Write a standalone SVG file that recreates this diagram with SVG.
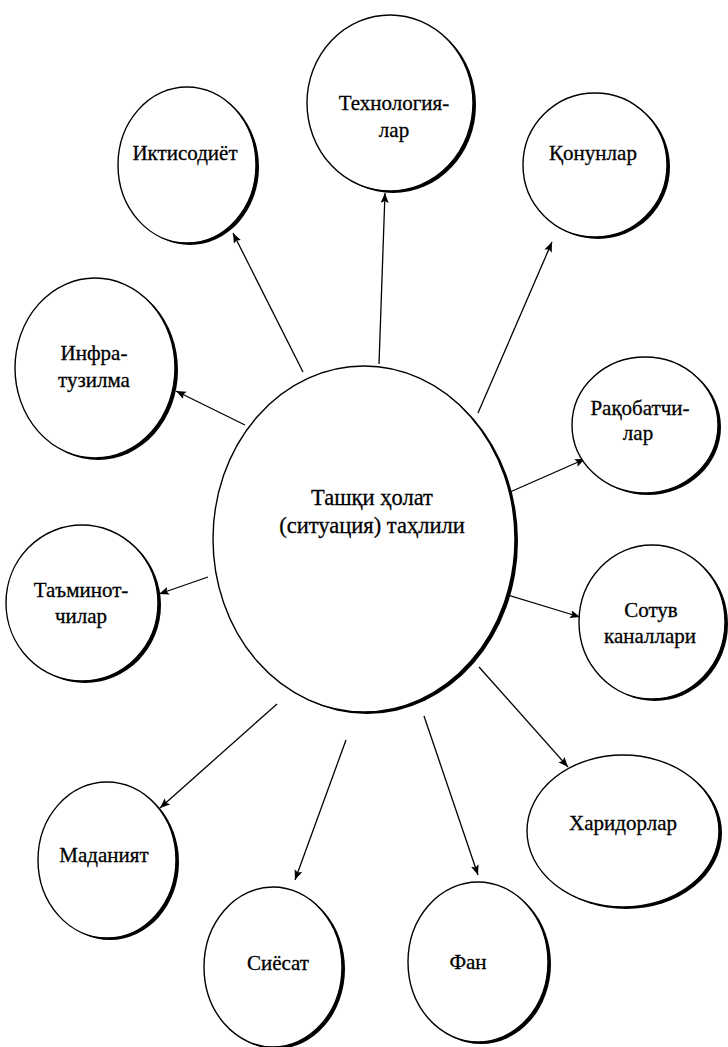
<svg xmlns="http://www.w3.org/2000/svg" width="728" height="1047" viewBox="0 0 728 1047">
<style>
.sh{fill:#000;stroke:none}
.fg{fill:#fff;stroke:#000;stroke-width:1.4}
.t{font-family:'Liberation Serif','DejaVu Serif','Times New Roman',serif;font-size:21px;fill:#000;stroke:#000;stroke-width:0.3;text-anchor:middle}
.tc{font-size:22.5px}
.c{stroke:#000;stroke-width:1.3;fill:none;marker-end:url(#ah)}
</style>
<defs>
<marker id="ah" markerUnits="userSpaceOnUse" markerWidth="12" markerHeight="10" refX="10" refY="4" orient="auto">
<path d="M0,0 L10,4 L0,8 L2,4 Z" fill="#000"/>
</marker>
</defs>
<rect width="728" height="1047" fill="#fff"/>
<g id="connectors">
<line class="c" x1="303" y1="372" x2="233" y2="233"/>
<line class="c" x1="379" y1="364" x2="385" y2="193"/>
<line class="c" x1="478" y1="413" x2="552" y2="242"/>
<line class="c" x1="245" y1="425" x2="176" y2="391"/>
<line class="c" x1="510" y1="492" x2="585" y2="459"/>
<line class="c" x1="208" y1="577" x2="159" y2="594"/>
<line class="c" x1="508" y1="595" x2="580" y2="617"/>
<line class="c" x1="479" y1="667" x2="568" y2="767"/>
<line class="c" x1="424" y1="716" x2="478" y2="875"/>
<line class="c" x1="346" y1="740" x2="295" y2="880"/>
<line class="c" x1="277" y1="704" x2="160" y2="808"/>
</g>
<g id="center">
<ellipse class="sh" cx="367" cy="541" rx="151" ry="173"/>
<ellipse class="fg" cx="364" cy="539" rx="151" ry="173"/>
<text class="t tc" x="372" y="505">Ташқи ҳолат</text>
<text class="t tc" x="372" y="533">(ситуация) таҳлили</text>
</g>
<g id="iqtisodiyot">
<ellipse class="sh" cx="190" cy="167" rx="69" ry="78"/>
<ellipse class="fg" cx="187" cy="165" rx="69" ry="78"/>
<text class="t" x="185" y="160">Иктисодиёт</text>
</g>
<g id="texnologiyalar">
<ellipse class="sh" cx="393" cy="105" rx="83" ry="88"/>
<ellipse class="fg" cx="390" cy="103" rx="83" ry="88"/>
<text class="t" x="394" y="110">Технология-</text>
<text class="t" x="394" y="137">лар</text>
</g>
<g id="qonunlar">
<ellipse class="sh" cx="598" cy="167" rx="72" ry="72"/>
<ellipse class="fg" cx="595" cy="165" rx="72" ry="72"/>
<text class="t" x="593" y="160">Қонунлар</text>
</g>
<g id="infratuzilma">
<ellipse class="sh" cx="98" cy="370" rx="80" ry="90"/>
<ellipse class="fg" cx="95" cy="368" rx="80" ry="90"/>
<text class="t" x="94" y="360">Инфра-</text>
<text class="t" x="94" y="387">тузилма</text>
</g>
<g id="raqobatchilar">
<ellipse class="sh" cx="648" cy="427" rx="73" ry="68"/>
<ellipse class="fg" cx="645" cy="425" rx="73" ry="68"/>
<text class="t" x="640" y="415">Рақобатчи-</text>
<text class="t" x="638" y="440">лар</text>
</g>
<g id="taminotchilar">
<ellipse class="sh" cx="85" cy="605" rx="76" ry="78"/>
<ellipse class="fg" cx="82" cy="603" rx="76" ry="78"/>
<text class="t" x="81" y="597">Таъминот-</text>
<text class="t" x="81" y="623">чилар</text>
</g>
<g id="sotuv">
<ellipse class="sh" cx="655" cy="624" rx="73" ry="77"/>
<ellipse class="fg" cx="652" cy="622" rx="73" ry="77"/>
<text class="t" x="651" y="617">Сотув</text>
<text class="t" x="650" y="643">каналлари</text>
</g>
<g id="xaridorlar">
<ellipse class="sh" cx="626" cy="833" rx="96" ry="76"/>
<ellipse class="fg" cx="623" cy="831" rx="96" ry="76"/>
<text class="t" x="623" y="830">Харидорлар</text>
</g>
<g id="fan">
<ellipse class="sh" cx="481" cy="964" rx="70" ry="80"/>
<ellipse class="fg" cx="478" cy="962" rx="70" ry="80"/>
<text class="t" x="468" y="969">Фан</text>
</g>
<g id="siyosat">
<ellipse class="sh" cx="276" cy="969" rx="69" ry="80"/>
<ellipse class="fg" cx="273" cy="967" rx="69" ry="80"/>
<text class="t" x="278" y="970">Сиёсат</text>
</g>
<g id="madaniyat">
<ellipse class="sh" cx="110" cy="862" rx="69" ry="78"/>
<ellipse class="fg" cx="107" cy="860" rx="69" ry="78"/>
<text class="t" x="104" y="862">Маданият</text>
</g>
</svg>
